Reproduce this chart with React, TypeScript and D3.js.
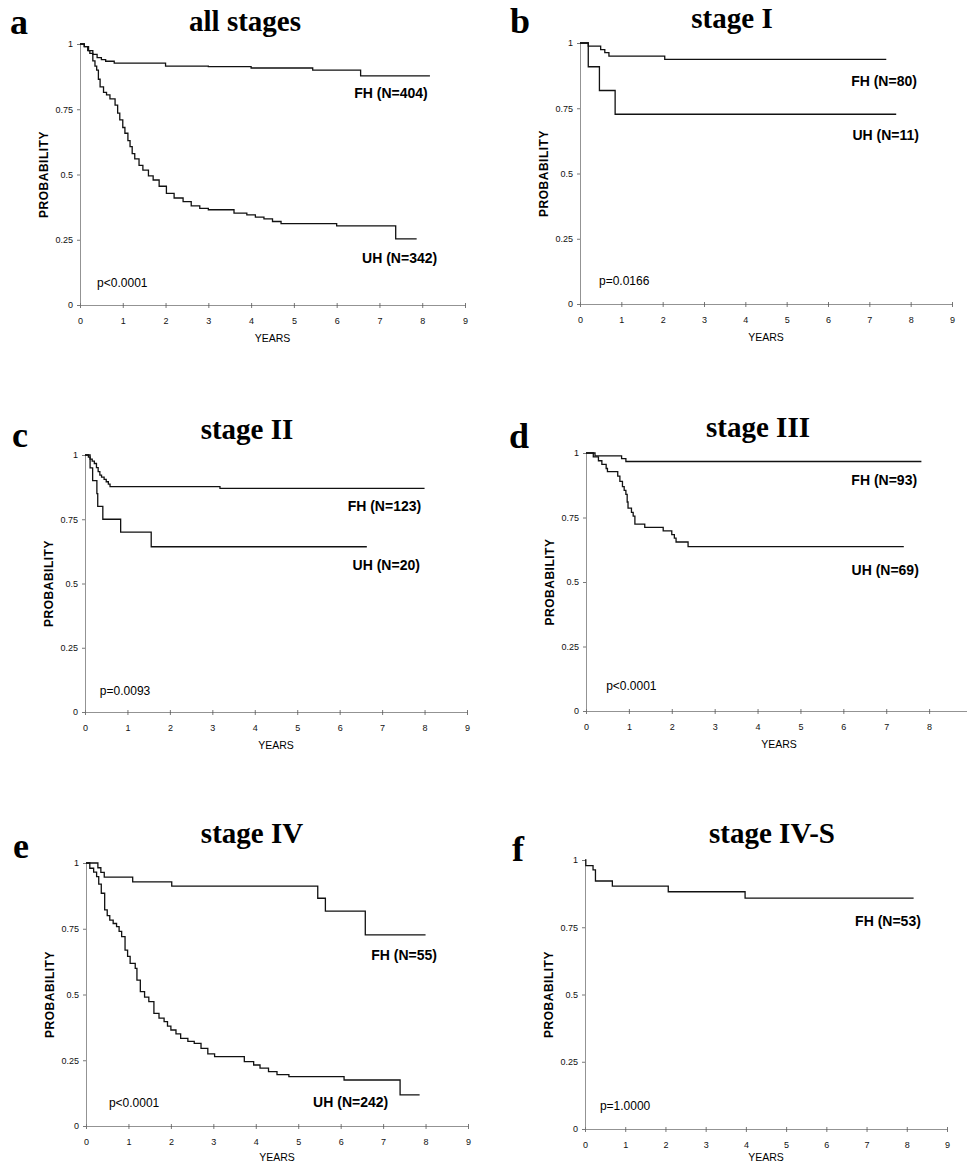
import React, { useEffect, useRef } from 'react';
import * as d3 from 'd3';

const W = 967;
const H = 1166;

// x axis: years, y axis: probability
const yearTicks = [0, 1, 2, 3, 4, 5, 6, 7, 8, 9];
const probTicks = [0, 0.25, 0.5, 0.75, 1];
const probLabels = ['0', '0.25', '0.5', '0.75', '1'];

// Kaplan-Meier steps: [years, probability]
const allFH: [number, number][] = [
    [0, 1], [0.1, 0.99], [0.2, 0.975], [0.3, 0.96], [0.4, 0.948], [0.5, 0.94], [0.6, 0.934],
    [0.8, 0.927], [2.0, 0.915], [3.0, 0.913], [4.0, 0.908], [5.44, 0.9], [6.56, 0.878], [8.18, 0.878]
];
const allUH: [number, number][] = [
    [0, 1], [0.1, 0.99], [0.18, 0.975], [0.23, 0.964], [0.3, 0.935], [0.35, 0.915], [0.39, 0.9],
    [0.43, 0.865], [0.47, 0.836], [0.55, 0.815], [0.62, 0.805], [0.7, 0.79], [0.82, 0.766],
    [0.88, 0.735], [0.93, 0.709], [1.0, 0.68], [1.05, 0.658], [1.12, 0.63], [1.17, 0.607],
    [1.22, 0.58], [1.28, 0.56], [1.38, 0.535], [1.47, 0.517], [1.6, 0.495], [1.71, 0.479],
    [1.85, 0.455], [2.02, 0.428], [2.2, 0.41], [2.41, 0.396], [2.6, 0.38], [2.8, 0.37],
    [3.0, 0.365], [3.6, 0.352], [3.9, 0.345], [4.1, 0.337], [4.3, 0.33], [4.5, 0.32],
    [4.7, 0.312], [6.0, 0.303], [7.38, 0.253], [7.87, 0.253]
];
const st1FH: [number, number][] = [
    [0, 1], [0.2, 0.988], [0.5, 0.975], [0.6, 0.963], [0.7, 0.95], [2.05, 0.937], [7.41, 0.937]
];
const st1UH: [number, number][] = [
    [0, 1], [0.2, 0.909], [0.47, 0.818], [0.85, 0.727], [7.65, 0.727]
];
const st2FH: [number, number][] = [
    [0, 1], [0.08, 0.992], [0.12, 0.984], [0.17, 0.976], [0.22, 0.967], [0.27, 0.951],
    [0.31, 0.935], [0.35, 0.922], [0.39, 0.914], [0.45, 0.905], [0.5, 0.896], [0.55, 0.887],
    [0.59, 0.877], [3.18, 0.87], [8.0, 0.87]
];
const st2UH: [number, number][] = [
    [0, 1], [0.12, 0.95], [0.18, 0.9], [0.28, 0.85], [0.3, 0.8], [0.42, 0.75], [0.84, 0.7],
    [1.56, 0.643], [6.64, 0.643]
];
const st3FH: [number, number][] = [
    [0, 1], [0.21, 0.989], [0.83, 0.978], [0.93, 0.967], [7.82, 0.967]
];
const st3UH: [number, number][] = [
    [0, 1], [0.17, 0.985], [0.29, 0.97], [0.37, 0.956], [0.47, 0.94], [0.5, 0.928], [0.74, 0.91],
    [0.79, 0.89], [0.85, 0.87], [0.89, 0.855], [0.93, 0.84], [0.96, 0.81], [0.98, 0.786],
    [1.06, 0.77], [1.1, 0.755], [1.14, 0.724], [1.37, 0.712], [1.8, 0.698], [2.0, 0.684],
    [2.06, 0.67], [2.1, 0.655], [2.38, 0.637], [7.41, 0.637]
];
const st4FH: [number, number][] = [
    [0, 1], [0.28, 0.982], [0.35, 0.964], [0.43, 0.946], [1.1, 0.928], [2.02, 0.912],
    [5.46, 0.866], [5.64, 0.817], [6.58, 0.727], [8.0, 0.727]
];
const st4UH: [number, number][] = [
    [0, 1], [0.09, 0.98], [0.18, 0.965], [0.25, 0.948], [0.3, 0.92], [0.36, 0.885], [0.44, 0.822],
    [0.5, 0.8], [0.56, 0.783], [0.64, 0.77], [0.72, 0.758], [0.78, 0.74], [0.84, 0.72],
    [0.92, 0.669], [0.98, 0.645], [1.04, 0.618], [1.16, 0.599], [1.2, 0.555], [1.28, 0.511],
    [1.38, 0.49], [1.48, 0.473], [1.6, 0.428], [1.72, 0.41], [1.84, 0.397], [1.92, 0.38],
    [2.0, 0.365], [2.12, 0.35], [2.23, 0.333], [2.4, 0.322], [2.55, 0.314], [2.71, 0.295],
    [2.87, 0.274], [3.03, 0.264], [3.73, 0.245], [3.95, 0.232], [4.1, 0.22], [4.3, 0.207],
    [4.5, 0.195], [4.78, 0.188], [6.08, 0.175], [7.4, 0.118], [7.86, 0.118]
];
const st4sFH: [number, number][] = [
    [0, 1], [0.02, 0.979], [0.2, 0.963], [0.26, 0.922], [0.68, 0.903], [2.07, 0.882],
    [3.98, 0.858], [8.17, 0.858]
];

// panel layout (pixels) + label anchors in data units
const panels = [
    {
        letter: 'a', title: 'all stages', x0: 80, x9: 465, yTop: 44, yBot: 305,
        letterPos: [10, 34], titlePos: [245, 31],
        curves: [
            { data: allFH, label: 'FH (N=404)', at: [8.13, 0.793] },
            { data: allUH, label: 'UH (N=342)', at: [8.35, 0.161] }
        ],
        p: 'p<0.0001', pAt: [0.4, 0.069]
    },
    {
        letter: 'b', title: 'stage I', x0: 580, x9: 952, yTop: 43, yBot: 304,
        letterPos: [510, 33], titlePos: [732, 28],
        curves: [
            { data: st1FH, label: 'FH (N=80)', at: [8.15, 0.835] },
            { data: st1UH, label: 'UH (N=11)', at: [8.2, 0.628] }
        ],
        p: 'p=0.0166', pAt: [0.46, 0.073]
    },
    {
        letter: 'c', title: 'stage II', x0: 85, x9: 467, yTop: 455, yBot: 712,
        letterPos: [12, 447], titlePos: [247, 439],
        curves: [
            { data: st2FH, label: 'FH (N=123)', at: [7.92, 0.782] },
            { data: st2UH, label: 'UH (N=20)', at: [7.89, 0.553] }
        ],
        p: 'p=0.0093', pAt: [0.35, 0.066]
    },
    {
        letter: 'd', title: 'stage III', x0: 586, x9: 972, yTop: 453, yBot: 711,
        letterPos: [509, 448], titlePos: [758, 437],
        curves: [
            { data: st3FH, label: 'FH (N=93)', at: [7.72, 0.876] },
            { data: st3UH, label: 'UH (N=69)', at: [7.76, 0.527] }
        ],
        p: 'p<0.0001', pAt: [0.47, 0.081]
    },
    {
        letter: 'e', title: 'stage IV', x0: 86, x9: 468, yTop: 863, yBot: 1126,
        letterPos: [13, 858], titlePos: [252, 843],
        curves: [
            { data: st4FH, label: 'FH (N=55)', at: [8.27, 0.631] },
            { data: st4UH, label: 'UH (N=242)', at: [7.12, 0.072] }
        ],
        p: 'p<0.0001', pAt: [0.54, 0.072]
    },
    {
        letter: 'f', title: 'stage IV-S', x0: 585, x9: 947, yTop: 860, yBot: 1129,
        letterPos: [512, 861], titlePos: [772, 843],
        curves: [
            { data: st4sFH, label: 'FH (N=53)', at: [8.35, 0.755] }
        ],
        p: 'p=1.0000', pAt: [0.37, 0.071]
    }
];

const SANS = '"Liberation Sans", Arial, Helvetica, sans-serif';
const SERIF = '"Liberation Serif", "Times New Roman", Times, serif';

const App = () => {
    const svgRef = useRef<SVGSVGElement>(null);

    useEffect(() => {
        const svg = d3.select(svgRef.current);
        svg.selectAll('*').remove();

        panels.forEach(p => {
            const x = d3.scaleLinear().domain([0, 9]).range([p.x0, p.x9]);
            const y = d3.scaleLinear().domain([0, 1]).range([p.yBot, p.yTop]);
            const g = svg.append('g');

            // axes
            const xa = g.append('g')
                .attr('transform', `translate(0,${p.yBot})`)
                .call(d3.axisBottom(x).tickValues(yearTicks).tickSize(3).tickSizeOuter(0).tickPadding(10).tickFormat(d3.format('d')));
            const ya = g.append('g')
                .attr('transform', `translate(${p.x0},0)`)
                .call(d3.axisLeft(y).tickValues(probTicks).tickSize(3).tickSizeOuter(0).tickPadding(4)
                    .tickFormat((d, i) => probLabels[i]));

            [xa, ya].forEach(a => {
                a.attr('font-size', 9).attr('font-family', SANS);
                a.select('.domain').attr('stroke', '#777').attr('stroke-width', 0.8);
                a.selectAll('.tick line').attr('stroke', '#555').attr('stroke-width', 0.8);
                a.selectAll('.tick text').attr('fill', '#111');
            });
            xa.selectAll('.tick line').attr('y1', -2);

            g.append('text')
                .attr('transform', `translate(${p.x0 - 32},${(p.yTop + p.yBot) / 2}) rotate(-90)`)
                .attr('text-anchor', 'middle')
                .attr('font-family', SANS).attr('font-weight', 'bold').attr('font-size', 12)
                .attr('letter-spacing', 0.5)
                .text('PROBABILITY');

            g.append('text')
                .attr('x', x(4.5)).attr('y', Math.min(p.yBot + 37, H - 5))
                .attr('text-anchor', 'middle')
                .attr('font-family', SANS).attr('font-size', 10.5)
                .text('YEARS');

            // KM curves
            const line = d3.line<[number, number]>()
                .x(d => x(d[0]))
                .y(d => y(d[1]))
                .curve(d3.curveStepAfter);

            p.curves.forEach(c => {
                g.append('path')
                    .attr('d', line(c.data))
                    .attr('fill', 'none')
                    .attr('stroke', '#111')
                    .attr('stroke-width', 1.3);
                g.append('text')
                    .attr('x', x(c.at[0])).attr('y', y(c.at[1]))
                    .attr('text-anchor', 'end')
                    .attr('font-family', SANS).attr('font-weight', 'bold').attr('font-size', 14)
                    .text(c.label);
            });

            g.append('text')
                .attr('x', x(p.pAt[0])).attr('y', y(p.pAt[1]))
                .attr('font-family', SANS).attr('font-size', 12)
                .text(p.p);

            g.append('text')
                .attr('x', p.titlePos[0]).attr('y', p.titlePos[1])
                .attr('text-anchor', 'middle')
                .attr('font-family', SERIF).attr('font-weight', 'bold').attr('font-size', 29)
                .text(p.title);

            g.append('text')
                .attr('x', p.letterPos[0]).attr('y', p.letterPos[1])
                .attr('font-family', SERIF).attr('font-weight', 'bold').attr('font-size', 36)
                .text(p.letter);
        });
    }, []);

    return (
        <svg ref={svgRef} width={W} height={H}
            style={{ position: 'absolute', left: 0, top: 0, background: '#fff' }}></svg>
    );
};

export default App;
